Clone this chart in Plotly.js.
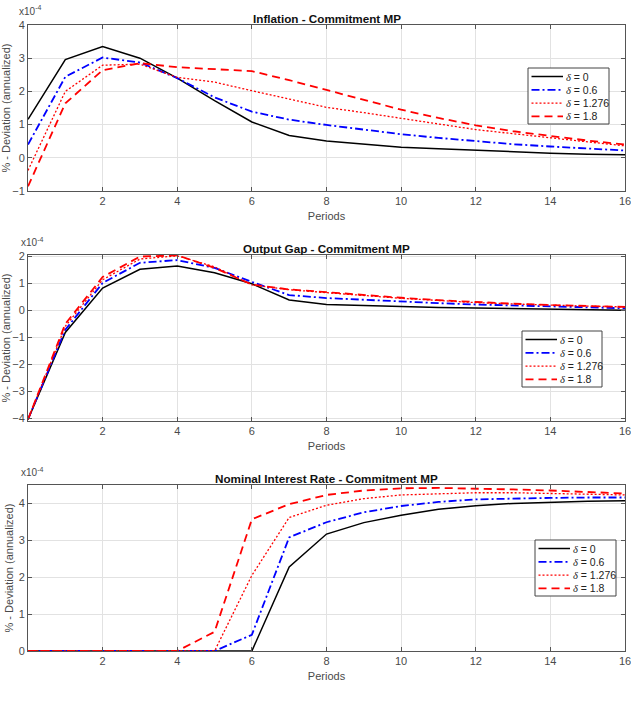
<!DOCTYPE html>
<html>
<head>
<meta charset="utf-8">
<script src="https://cdn.plot.ly/plotly-3.0.1.min.js"></script>
<style>html,body{margin:0;padding:0;background:#fff;}#chart{width:631px;height:716px;}</style>
</head>
<body>
<div id="chart"></div>
<script>
const periods = [0,1,2,3,4,5,6,7,8,9,10,11,12,13,14,15,16];
const deltaValues = ["0", "0.6", "1.276", "1.8"];
const panelTitles = ["Inflation - Commitment MP", "Output Gap - Commitment MP", "Nominal Interest Rate - Commitment MP"];
const xTickVals = [2,4,6,8,10,12,14,16];

// values in units of 1e-4
const inflation_d0    = [1.16, 2.96, 3.35, 3.00, 2.40, 1.72, 1.08, 0.67, 0.51, 0.41, 0.32, 0.27, 0.22, 0.18, 0.14, 0.11, 0.09];
const inflation_d06   = [0.40, 2.44, 3.02, 2.87, 2.40, 1.82, 1.39, 1.15, 0.99, 0.85, 0.71, 0.60, 0.50, 0.41, 0.34, 0.28, 0.22];
const inflation_d1276 = [-0.38, 2.00, 2.79, 2.82, 2.42, 2.28, 2.02, 1.78, 1.52, 1.36, 1.20, 1.02, 0.85, 0.72, 0.60, 0.48, 0.36];
const inflation_d18   = [-0.86, 1.64, 2.64, 2.85, 2.73, 2.66, 2.61, 2.34, 2.04, 1.74, 1.45, 1.20, 0.98, 0.80, 0.65, 0.52, 0.40];

const gap_d0    = [-4.05, -0.82, 0.83, 1.53, 1.65, 1.40, 0.99, 0.39, 0.22, 0.18, 0.14, 0.11, 0.09, 0.07, 0.05, 0.03, 0.01];
const gap_d06   = [-4.05, -0.72, 1.02, 1.77, 1.87, 1.58, 1.06, 0.57, 0.46, 0.39, 0.32, 0.27, 0.22, 0.18, 0.14, 0.11, 0.08];
const gap_d1276 = [-4.05, -0.59, 1.14, 1.91, 2.03, 1.62, 0.95, 0.77, 0.66, 0.55, 0.45, 0.37, 0.29, 0.24, 0.19, 0.16, 0.13];
const gap_d18   = [-4.05, -0.50, 1.24, 2.00, 2.05, 1.58, 0.96, 0.78, 0.68, 0.57, 0.47, 0.38, 0.31, 0.25, 0.20, 0.16, 0.13];

const rate_d0    = [0, 0, 0, 0, 0, 0, 0, 2.28, 3.17, 3.48, 3.68, 3.84, 3.94, 4.00, 4.04, 4.06, 4.07];
const rate_d06   = [0, 0, 0, 0, 0, 0, 0.44, 3.08, 3.49, 3.76, 3.93, 4.04, 4.11, 4.14, 4.15, 4.16, 4.16];
const rate_d1276 = [0, 0, 0, 0, 0, 0, 2.05, 3.62, 3.95, 4.13, 4.23, 4.27, 4.29, 4.29, 4.27, 4.25, 4.23];
const rate_d18   = [0, 0, 0, 0, 0, 0.52, 3.57, 3.98, 4.23, 4.35, 4.41, 4.42, 4.41, 4.38, 4.35, 4.31, 4.27];

const panels = [
  [inflation_d0, inflation_d06, inflation_d1276, inflation_d18],
  [gap_d0, gap_d06, gap_d1276, gap_d18],
  [rate_d0, rate_d06, rate_d1276, rate_d18]
];

const styles = [
  {color: '#000000', width: 1.5, dash: 'solid'},
  {color: '#0000ff', width: 1.8, dash: '8px,3px,2px,3px'},
  {color: '#ff0000', width: 1.3, dash: '2px,2px'},
  {color: '#ff0000', width: 1.8, dash: '8px,5px'}
];

function seriesLabel(i) {
  return "<i><span style='font-family:Liberation Serif, serif'>δ</span></i> = " + deltaValues[i];
}

const traces = [];
panels.forEach((ser, p) => {
  const sfx = p === 0 ? '' : String(p + 1);
  ser.forEach((vals, i) => {
    traces.push({
      x: periods, y: vals, type: 'scatter', mode: 'lines',
      name: seriesLabel(i),
      xaxis: 'x' + sfx, yaxis: 'y' + sfx,
      line: styles[i], showlegend: false,
      hoverinfo: 'skip'
    });
  });
});

const FAM = 'Liberation Sans, Arial, sans-serif';
const tickFont = {family: FAM, size: 11, color: '#4a4a4a'};
function xax(anchor) {
  return {
    anchor: anchor, domain: [0, 1], range: [0, 16], tickvals: xTickVals,
    ticks: 'inside', ticklen: 4, tickcolor: '#555', showline: true, mirror: 'ticks',
    linecolor: '#555', linewidth: 1, showgrid: true, gridcolor: '#e2e2e2', zeroline: false,
    tickfont: tickFont, ticklabeloverflow: 'allow',
    title: {text: 'Periods', font: tickFont, standoff: 6},
    automargin: false
  };
}
function yax(anchor, domain, range, tickvals) {
  return {
    anchor: anchor, domain: domain, range: range, tickvals: tickvals,
    ticks: 'inside', ticklen: 4, tickcolor: '#555', showline: true, mirror: 'ticks',
    linecolor: '#555', linewidth: 1, showgrid: true, gridcolor: '#e2e2e2', zeroline: false,
    tickfont: tickFont, ticklabeloverflow: 'allow',
    title: {text: '% - Deviation (annualized)', font: tickFont, standoff: 2},
    automargin: false
  };
}

// plot area in pixels (for placing the legend boxes and labels)
const M = {l: 28, r: 6, t: 25, b: 65, autoexpand: false};
const W = 631, H = 716;
const PW = W - M.l - M.r, PH = H - M.t - M.b;
const px2x = px => (px - M.l) / PW;
const py2y = py => (H - M.b - py) / PH;

const panelTops = [25, 255, 485];
const legendBoxes = [
  {left: 528, top: 68, w: 81, h: 56},
  {left: 522, top: 331, w: 80, h: 56},
  {left: 535, top: 540, w: 81, h: 56}
];

const annotations = [];
const shapes = [];
['', '2', '3'].forEach((sfx, p) => {
  annotations.push({
    xref: 'x' + sfx + ' domain', yref: 'y' + sfx + ' domain', x: 0.5, y: 1,
    xanchor: 'center', yanchor: 'bottom', yshift: -2, showarrow: false,
    text: '<b>' + panelTitles[p] + '</b>',
    font: {family: FAM, size: 11.7, color: '#111'}
  });
  if (p > 0) {
    annotations.push({
      xref: 'paper', yref: 'paper', x: px2x(44), y: py2y(panelTops[p] - 13),
      xanchor: 'right', yanchor: 'middle', showarrow: false, borderpad: 0,
      text: 'x10<sup>-4</sup>',
      font: {family: FAM, size: 10, color: '#4a4a4a'}
    });
  }
  const b = legendBoxes[p];
  shapes.push({
    type: 'rect', xref: 'paper', yref: 'paper',
    x0: px2x(b.left), x1: px2x(b.left + b.w), y0: py2y(b.top + b.h), y1: py2y(b.top),
    line: {color: '#444', width: 1}, fillcolor: '#ffffff', layer: 'above'
  });
  for (let i = 0; i < 4; i++) {
    const rowY = b.top + 8.5 + i * 13.3;
    shapes.push({
      type: 'line', xref: 'paper', yref: 'paper',
      x0: px2x(b.left + 3.5), x1: px2x(b.left + 35), y0: py2y(rowY), y1: py2y(rowY),
      line: styles[i], layer: 'above'
    });
    annotations.push({
      xref: 'paper', yref: 'paper', x: px2x(b.left + 37), y: py2y(rowY),
      xanchor: 'left', yanchor: 'middle', showarrow: false, borderpad: 0,
      text: seriesLabel(i),
      font: {family: FAM, size: 10.5, color: '#222'}
    });
  }
});

const layout = {
  width: W, height: H,
  margin: M,
  paper_bgcolor: '#ffffff', plot_bgcolor: '#ffffff',
  showlegend: false,
  font: {family: FAM, size: 11, color: '#333'},
  // exponent label of the top panel
  title: {
    text: 'x10<sup>-4</sup>', xref: 'container', yref: 'container',
    x: 19 / W, xanchor: 'left', y: 1 - 11 / H, yanchor: 'middle',
    font: {family: FAM, size: 10, color: '#4a4a4a'}
  },
  xaxis: xax('y'), xaxis2: xax('y2'), xaxis3: xax('y3'),
  yaxis: yax('x', [0.7348, 1], [-1, 4], [-1, 0, 1, 2, 3, 4]),
  yaxis2: yax('x2', [0.3674, 0.6326], [-4.11, 2.06], [-4, -3, -2, -1, 0, 1, 2]),
  yaxis3: yax('x3', [0, 0.2652], [0, 4.5], [0, 1, 2, 3, 4]),
  annotations: annotations,
  shapes: shapes
};

Plotly.newPlot('chart', traces, layout, {staticPlot: true, displayModeBar: false});
</script>
</body>
</html>
